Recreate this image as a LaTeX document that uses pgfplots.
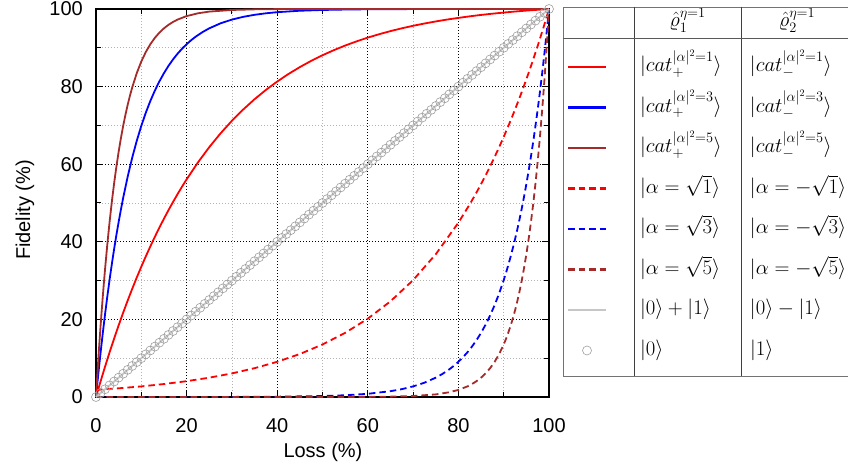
\documentclass[border=0pt]{standalone}
\usepackage[no-math]{fontspec}
\setmainfont{Liberation Sans}
\usepackage{amsmath}
\usepackage{pgfplots}
\pgfplotsset{compat=1.18}
\definecolor{cred}{RGB}{255,0,0}
\definecolor{cblue}{RGB}{0,0,255}
\definecolor{cbrown}{RGB}{165,42,42}
\newcommand{\lrow}[2]{\rule[-15.25pt]{0pt}{40.5pt}\hspace{6pt}\makebox[110pt][l]{#1}\makebox[100pt][l]{#2}}
\newcommand{\hrow}[2]{\rule[-19.75pt]{0pt}{40.5pt}\makebox[107pt][c]{#1}\makebox[112pt][c]{#2}}
\begin{document}
\begin{tikzpicture}
\begin{axis}[
  scale only axis, width=453pt, height=388pt,
  xmin=0, xmax=100, ymin=0, ymax=100,
  xtick={0,20,40,60,80,100}, ytick={0,20,40,60,80,100},
  minor xtick={10,30,50,70,90}, minor ytick={10,30,50,70,90},
  grid=both,
  major grid style={black, line width=0.7pt, dash pattern=on 0.8pt off 2.2pt},
  minor grid style={black!30, line width=0.7pt, dash pattern=on 0.8pt off 2.2pt},
  tick align=inside, tick pos=both,
  major tick length=7pt, minor tick length=5pt,
  every tick/.style={black, line width=1pt},
  axis line style={line width=1.4pt},
  clip=false,
  /pgf/number format/assume math mode=true,
  tick label style={font=\fontsize{20}{24}\selectfont},
  yticklabel style={inner sep=0pt, xshift=-13pt},
  xticklabel style={inner sep=0pt, yshift=-21pt},
  xlabel={Loss (\%)}, ylabel={Fidelity (\%)},
  every axis x label/.style={at={(axis description cs:0.501,-0.142)}, anchor=center, font=\fontsize{20}{24}\selectfont},
  every axis y label/.style={at={(axis description cs:-0.157,0.482)}, anchor=center, rotate=90, font=\fontsize{20}{24}\selectfont},
  legend image code/.code={\draw[mark repeat=2,mark phase=2,#1,line width=2.2pt,mark options={line width=0.6pt}] plot coordinates {(0pt,0pt) (19pt,0pt) (38pt,0pt)}; \path[draw=none,fill=none] (-5pt,-20.25pt) rectangle (66pt,20.25pt);},
  legend style={at={(axis description cs:1.03091,1.00709)}, anchor=north west, draw=none, fill=none,
    inner sep=0pt, outer sep=0pt, row sep=0pt, column sep=0pt, cells={anchor=west},
    nodes={inner sep=0pt, outer sep=0pt, text depth=}, font=\fontsize{19.5}{22}\selectfont},
]
\addlegendimage{empty legend}
\addlegendentry{\hrow{$\hat{\varrho}_1^{\eta=1}$}{$\hat{\varrho}_2^{\eta=1}$}}

\addplot[cred, line width=1.8pt] coordinates {(0,0) (1,3.99) (2,7.83) (3,11.52) (4,15.06) (5,18.47) (6,21.74) (7,24.88) (8,27.90) (9,30.80) (10,33.58) (11,36.26) (12,38.83) (13,41.30) (14,43.68) (15,45.96) (16,48.15) (17,50.26) (18,52.28) (19,54.23) (20,56.09) (22.5,60.45) (25,64.39) (27.5,67.96) (30,71.18) (32.5,74.10) (35,76.75) (37.5,79.14) (40,81.30) (42.5,83.26) (45,85.03) (47.5,86.63) (50,88.08) (52.5,89.39) (55,90.58) (57.5,91.65) (60,92.63) (62.5,93.50) (65,94.30) (67.5,95.02) (70,95.67) (72.5,96.26) (75,96.79) (77.5,97.28) (80,97.71) (82.5,98.11) (85,98.47) (87.5,98.79) (90,99.08) (92.5,99.35) (95,99.59) (97.5,99.80) (100,100)};
\addlegendentry{\lrow{$|cat_+^{|\alpha|^2=1}\rangle$}{$|cat_-^{|\alpha|^2=1}\rangle$}}

\addplot[cblue, line width=1.8pt] coordinates {(0,0) (0.25,2.96) (0.5,5.82) (1,11.31) (1.5,16.47) (2,21.34) (2.5,25.92) (3,30.23) (3.5,34.30) (4,38.12) (4.5,41.73) (5,45.12) (5.5,48.31) (6,51.32) (7,56.83) (8,61.71) (9,66.04) (10,69.88) (11,73.29) (12,76.31) (13,78.99) (14,81.36) (15,83.47) (16,85.34) (17,87.00) (18,88.47) (19,89.77) (20,90.93) (21,91.95) (22,92.86) (23.5,94.04) (25,95.02) (27.5,96.31) (30,97.27) (32.5,97.98) (35,98.50) (37.5,98.89) (40,99.18) (45,99.55) (50,99.75) (55,99.86) (60,99.93) (70,99.98) (80,99.99) (100,100)};
\addlegendentry{\lrow{$|cat_+^{|\alpha|^2=3}\rangle$}{$|cat_-^{|\alpha|^2=3}\rangle$}}

\addplot[cbrown, line width=1.8pt] coordinates {(0,0) (0.25,4.88) (0.5,9.52) (0.75,13.93) (1,18.13) (1.25,22.12) (1.5,25.92) (1.75,29.53) (2,32.97) (2.5,39.35) (3,45.12) (3.5,50.34) (4,55.07) (4.5,59.34) (5,63.21) (5.5,66.71) (6,69.88) (6.5,72.75) (7,75.34) (7.5,77.69) (8,79.81) (9,83.47) (10,86.47) (11,88.92) (12,90.93) (13,92.57) (14,93.92) (15,95.02) (16,95.92) (17,96.66) (18,97.27) (20,98.17) (22.5,98.89) (25,99.33) (30,99.75) (35,99.91) (40,99.97) (50,100) (100,100)};
\addlegendentry{\lrow{$|cat_+^{|\alpha|^2=5}\rangle$}{$|cat_-^{|\alpha|^2=5}\rangle$}}

\addplot[cred, line width=1.8pt, dash pattern=on 6.5pt off 4pt] coordinates {(0,1.83) (5,2.24) (10,2.73) (15,3.34) (20,4.08) (25,4.98) (30,6.08) (35,7.43) (40,9.07) (45,11.08) (50,13.53) (55,16.53) (60,20.19) (65,24.66) (70,30.12) (75,36.79) (80,44.93) (82.5,49.66) (83.75,52.20) (85,54.88) (86.25,57.69) (87.5,60.65) (88.75,63.76) (90,67.03) (91.25,70.47) (92.5,74.08) (93.75,77.88) (95,81.87) (96.25,86.07) (97.5,90.48) (98.75,95.12) (100,100)};
\addlegendentry{\lrow{$|\alpha=\sqrt{1}\rangle$}{$|\alpha=-\sqrt{1}\rangle$}}

\addplot[cblue, line width=1.8pt, dash pattern=on 6.5pt off 4pt] coordinates {(0,0) (20,0.01) (30,0.02) (40,0.08) (50,0.25) (55,0.45) (60,0.82) (65,1.50) (67.5,2.02) (70,2.73) (72.5,3.69) (75,4.98) (76.5,5.96) (78,7.14) (79,8.05) (80,9.07) (81,10.23) (82,11.53) (83,13.00) (84,14.66) (85,16.53) (86,18.64) (87,21.01) (88,23.69) (89,26.71) (90,30.12) (90.5,31.98) (91,33.96) (91.5,36.06) (92,38.29) (92.5,40.66) (93,43.17) (93.5,45.84) (94,48.68) (94.5,51.69) (95,54.88) (95.5,58.27) (96,61.88) (96.5,65.70) (97,69.77) (97.5,74.08) (98,78.66) (98.5,83.53) (99,88.69) (99.5,94.18) (100,100)};
\addlegendentry{\lrow{$|\alpha=\sqrt{3}\rangle$}{$|\alpha=-\sqrt{3}\rangle$}}

\addplot[cbrown, line width=1.8pt, dash pattern=on 6.5pt off 4pt] coordinates {(0,0) (50,0.01) (60,0.03) (65,0.09) (70,0.25) (75,0.67) (78,1.23) (80,1.83) (82,2.73) (83,3.34) (84,4.08) (85,4.98) (86,6.08) (87,7.43) (88,9.07) (89,11.08) (90,13.53) (90.5,14.96) (91,16.53) (91.5,18.27) (92,20.19) (92.5,22.31) (93,24.66) (93.5,27.25) (94,30.12) (94.5,33.29) (95,36.79) (95.5,40.66) (96,44.93) (96.5,49.66) (97,54.88) (97.5,60.65) (98,67.03) (98.5,74.08) (99,81.87) (99.5,90.48) (100,100)};
\addlegendentry{\lrow{$|\alpha=\sqrt{5}\rangle$}{$|\alpha=-\sqrt{5}\rangle$}}

\addplot[black!22, line width=1.8pt] coordinates {(0,0) (100,100)};
\addlegendentry{\lrow{$|0\rangle+|1\rangle$}{$|0\rangle-|1\rangle$}}

\addplot[only marks, mark=o, mark size=4.5pt, black!38, line width=0.6pt] coordinates {(0,0) (1,1) (2,2) (3,3) (4,4) (5,5) (6,6) (7,7) (8,8) (9,9) (10,10) (11,11) (12,12) (13,13) (14,14) (15,15) (16,16) (17,17) (18,18) (19,19) (20,20) (21,21) (22,22) (23,23) (24,24) (25,25) (26,26) (27,27) (28,28) (29,29) (30,30) (31,31) (32,32) (33,33) (34,34) (35,35) (36,36) (37,37) (38,38) (39,39) (40,40) (41,41) (42,42) (43,43) (44,44) (45,45) (46,46) (47,47) (48,48) (49,49) (50,50) (51,51) (52,52) (53,53) (54,54) (55,55) (56,56) (57,57) (58,58) (59,59) (60,60) (61,61) (62,62) (63,63) (64,64) (65,65) (66,66) (67,67) (68,68) (69,69) (70,70) (71,71) (72,72) (73,73) (74,74) (75,75) (76,76) (77,77) (78,78) (79,79) (80,80) (81,81) (82,82) (83,83) (84,84) (85,85) (86,86) (87,87) (88,88) (89,89) (90,90) (91,91) (92,92) (93,93) (94,94) (95,95) (96,96) (97,97) (98,98) (99,99) (100,100)};
\addlegendentry{\lrow{$|0\rangle$}{$|1\rangle$}}
\end{axis}
\draw[black!55, line width=0.8pt] (760pt,390pt) -- (467pt,390pt) -- (467pt,21pt) -- (760pt,21pt);
\draw[black!75, line width=0.8pt] (538pt,390pt) -- (538pt,21pt) (645pt,390pt) -- (645pt,21pt);
\draw[black!65, line width=0.8pt] (467pt,359pt) -- (760pt,359pt);
\pgfresetboundingbox
\path[use as bounding box] (-96pt,-74pt) rectangle (752pt,397pt);
\end{tikzpicture}
\end{document}
